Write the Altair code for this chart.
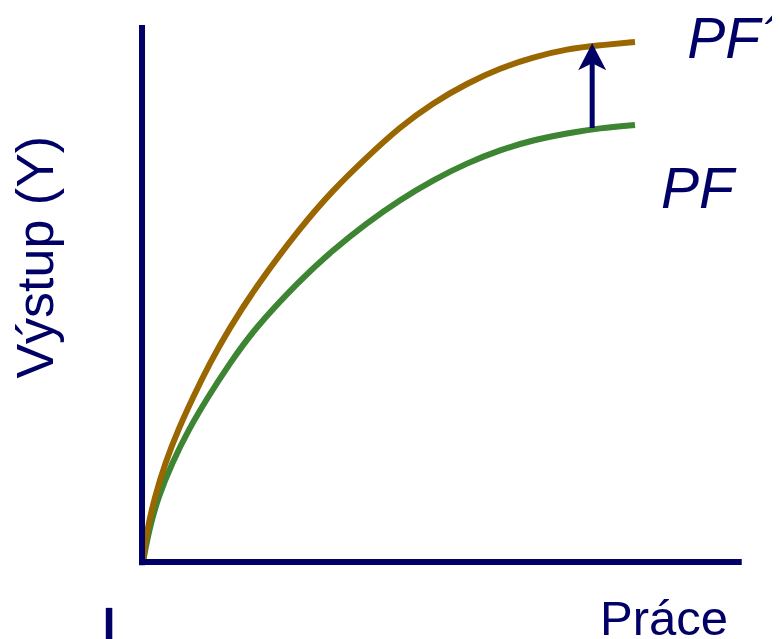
import altair as alt
import pandas as pd

# Production function PF (before) and PF' (after the shift) - labour vs output
labor_pf = [0, 1.2, 3.1, 5.9, 9.2, 13.2, 17.7, 22.4, 31.9, 38.6, 45.5, 52.2, 58.9, 65.9, 72.6, 79.3, 86.2, 92.9, 100.0]
output_pf = [0, 6.1, 12.5, 19.0, 25.3, 31.7, 38.2, 44.5, 54.1, 59.9, 65.1, 69.5, 73.3, 76.6, 79.1, 81.0, 82.3, 83.3, 83.9]

labor_pf2 = [0, 0.8, 2.4, 4.5, 7.1, 10.2, 13.6, 17.3, 23.2, 31.9, 38.6, 45.5, 52.2, 58.9, 65.9, 72.6, 79.3, 86.2, 92.9, 100.0]
output_pf2 = [0, 6.1, 12.5, 19.0, 25.3, 31.7, 38.2, 44.5, 53.2, 64.1, 71.4, 77.7, 83.5, 88.1, 91.9, 94.8, 96.9, 98.5, 99.2, 99.8]

# shift arrow (labour position, from PF up to PF')
arrow_x = [91.3]
arrow_from = [83.3]
arrow_to = [96.4]
arrow_head = [96.9]

# text labels
label_text = ["PF\u00b4", "PF", "Práce"]
label_x = [110.6, 105.3, 92.9]
label_y = [96.7, 68.0, -14.0]

NAVY = "#000066"
GREEN = "#3d8433"
BROWN = "#996600"
FONT = "Liberation Sans"

XS = alt.Scale(domain=[-27.44, 127.85], nice=False, zero=False)
YS = alt.Scale(domain=[-14.78, 106.34], nice=False, zero=False)

pf = pd.DataFrame({"x": labor_pf, "y": output_pf})
pf2 = pd.DataFrame({"x": labor_pf2, "y": output_pf2})

def X(f="x"):
    return alt.X(f"{f}:Q", scale=XS, axis=None)

def Y(f="y"):
    return alt.Y(f"{f}:Q", scale=YS, axis=None)

axes_df = pd.DataFrame({"x": [-0.2, -0.8], "x2": [-0.2, 121.7], "y": [-0.6, 0.0], "y2": [103.1, 0.0]})
axes = alt.Chart(axes_df).mark_rule(color=NAVY, strokeWidth=6, strokeCap="butt").encode(
    x=X(), x2="x2:Q", y=Y(), y2="y2:Q"
)

stub = alt.Chart(pd.DataFrame({"x": [-6.9], "y": [-8.8], "y2": [-16.0]})).mark_rule(
    color=NAVY, strokeWidth=6.5, strokeCap="butt"
).encode(x=X(), y=Y(), y2="y2:Q")

line_pf = alt.Chart(pf).mark_line(color=GREEN, strokeWidth=6, interpolate="basis", strokeCap="butt").encode(
    x=X(), y=Y()
)
line_pf2 = alt.Chart(pf2).mark_line(color=BROWN, strokeWidth=6, interpolate="basis", strokeCap="butt").encode(
    x=X(), y=Y()
)

arrow_df = pd.DataFrame({"x": arrow_x, "y": arrow_from, "y2": arrow_to, "yh": arrow_head})
shaft = alt.Chart(arrow_df).mark_rule(color=NAVY, strokeWidth=5, strokeCap="butt").encode(
    x=X(), y=Y(), y2="y2:Q"
)
head = alt.Chart(arrow_df).mark_point(
    shape="M0,-1L1,0.93L0,0.43L-1,0.93Z", size=784, filled=True, color=NAVY, opacity=1, strokeWidth=0
).encode(x=X(), y=Y("yh"))

lab_df = pd.DataFrame({"x": label_x, "y": label_y, "t": label_text})
pf_labels = alt.Chart(lab_df.iloc[:2]).mark_text(
    align="left", baseline="alphabetic", font=FONT, fontSize=57, fontStyle="italic", color=NAVY
).encode(x=X(), y=Y(), text="t:N")
x_label = alt.Chart(lab_df.iloc[2:]).mark_text(
    align="left", baseline="alphabetic", font=FONT, fontSize=49, color=NAVY
).encode(x=X(), y=Y(), text="t:N")

y_label = alt.Chart(pd.DataFrame({"x": [-18.3], "y": [58.5], "t": ["Výstup (Y)"]})).mark_text(
    align="center", baseline="alphabetic", angle=270, font=FONT, fontSize=52, color=NAVY
).encode(x=X(), y=Y(), text="t:N")

chart = alt.layer(
    line_pf, line_pf2, axes, stub, shaft, head, pf_labels, x_label, y_label
).properties(
    width=764, height=631, autosize="none", padding=0
).configure_view(stroke=None)

chart.save("out.html", embed_options={"renderer": "svg", "actions": False})
